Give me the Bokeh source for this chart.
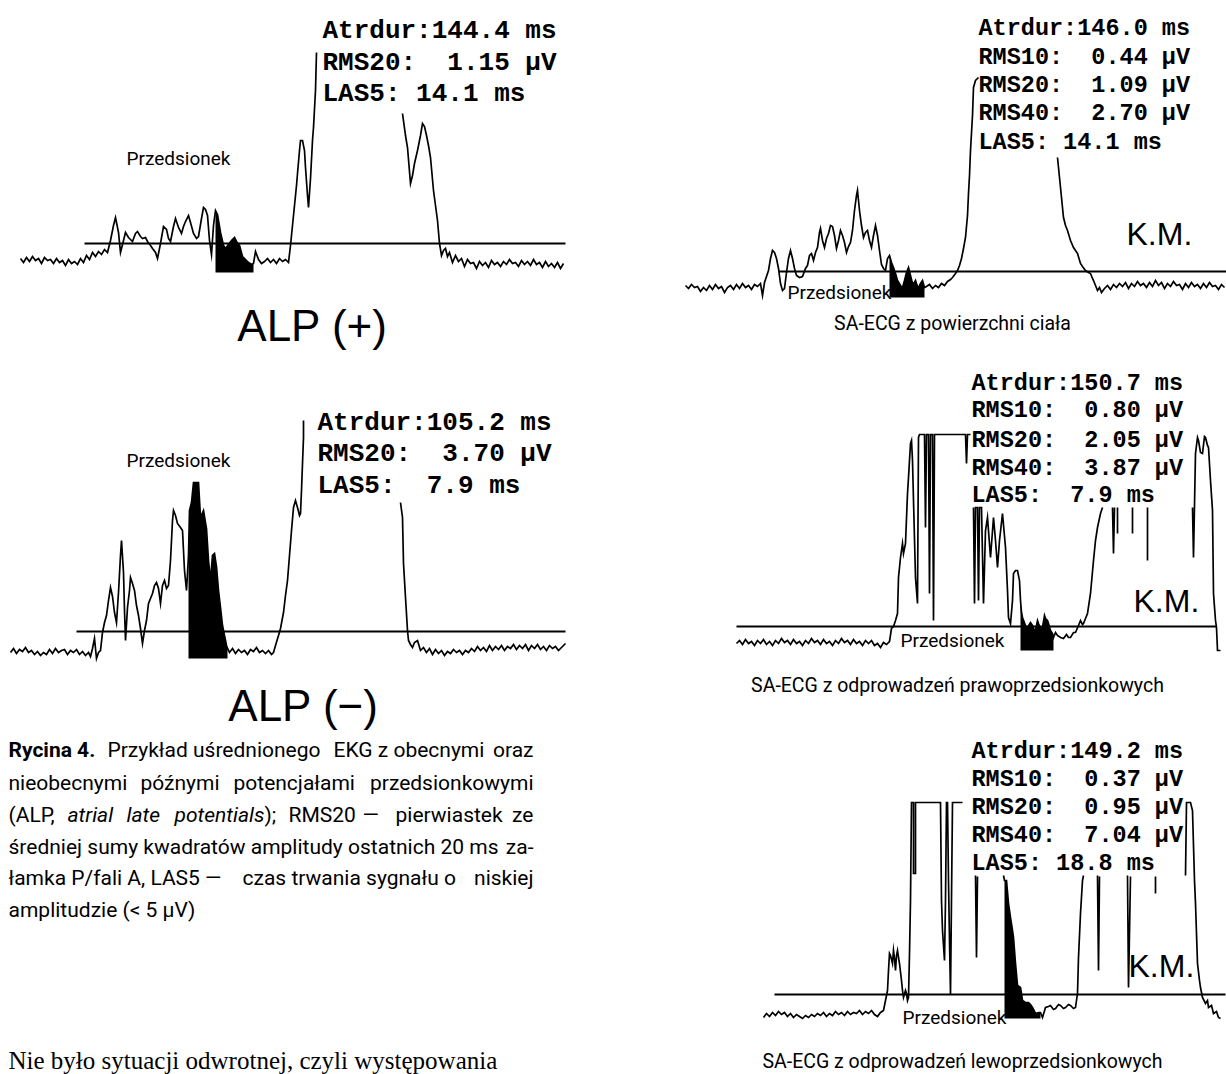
import numpy as np
from bokeh.plotting import figure
from bokeh.models import Range1d
from bokeh.core.properties import value
from bokeh.embed import file_html
from bokeh.resources import INLINE

nan = float("nan")
GAP = (nan, nan)

# ---------------- DATA (time offset, amplitude rel. to isoelectric line) ----------------
ALP_POS = [(0,-15),(3,-19),(6,-14),(9,-18),(12,-13),(15,-17),(18,-15),(21,-20),(24,-14),(27,-17),
 (30,-16),(33,-20),(36,-15),(39,-19),(42,-17),(45,-22),(48,-16),(51,-20),(54,-18),(57,-21),(60,-15),
 (63,-19),(66,-12),(69,-16),(72,-9),(75,-13),(78,-8),(81,-11),(84,-6),(87,-9),(90,3),(93,18),(95,26),
 (98,11),(100,-9),(103,3),(105,11),(108,6),(112,2),(115,10),(117,12),(120,7),(122,5),(125,6),(127,2),
 (130,-2),(132,-5),(135,-9),(137,-15),(140,0),(143,17),(146,14),(148,5),(150,2),(153,17),(155,25),
 (158,16),(161,10),(163,17),(165,22),(168,28),(170,21),(173,10),(176,5),(178,7),(181,25),(183,36),
 (185,34),(187,28),(189,3),(191,-11),(193,18),(195,33),(197,29),(200,11),(203,-2),(205,-5),(208,-1),
 (211,3),(214,6),(216,2),(219,-2),(222,-13),(225,-16),(228,-19),(231,-21),(233,-20),(235,-8),(238,-16),
 (241,-20),(244,-18),(247,-15),(250,-19),(253,-16),(256,-20),(259,-15),(262,-18),(265,-16),(268,-19),
 (270,-2),(272,18),(274,38),(276,58),(277,70),(279,93),(280,103),(282,103),(284,93),(285,76),(287,48),
 (288,36),(290,65),(292,103),(293,116),(295,153),(296,191), GAP,
 (382,130),(385,108),(387,96),(390,60),(392,68),(394,80),(397,93),(400,108),(402,120),(404,117),
 (406,108),(408,98),(410,86),(413,53),(415,38),(417,23),(419,0),(421,-12),(423,-7),(425,-5),(427,-13),
 (429,-9),(432,-19),(435,-12),(438,-18),(441,-15),(444,-23),(447,-16),(450,-20),(453,-19),(456,-25),
 (459,-18),(462,-22),(465,-19),(468,-24),(471,-17),(474,-21),(477,-19),(480,-23),(483,-18),(486,-21),
 (489,-16),(492,-20),(495,-19),(498,-23),(501,-17),(504,-21),(507,-18),(510,-22),(513,-16),(516,-21),
 (519,-19),(522,-24),(525,-18),(528,-23),(531,-20),(534,-24),(537,-19),(540,-25),(543,-20)]
ALP_POS_BASE = (64, 545)
ALP_POS_LAS = (195, 233, -29)

ALP_NEG = [(0,-21),(3,-17),(6,-22),(9,-18),(12,-20),(15,-16),(18,-21),(21,-19),(24,-23),(27,-20),
 (30,-24),(33,-21),(36,-23),(39,-18),(42,-22),(45,-17),(48,-21),(51,-19),(54,-18),(57,-23),(60,-19),
 (63,-21),(66,-18),(69,-23),(72,-20),(75,-24),(78,-21),(80,-25),(82,-17),(84,-7),(86,-27),(88,-21),
 (90,-19),(92,-1),(94,9),(96,16),(98,31),(100,44),(102,35),(104,19),(106,9),(108,39),(110,76),(111,91),
 (113,59),(114,21),(115,-9),(117,24),(119,41),(120,54),(122,48),(124,41),(126,26),(128,16),(130,3),
 (132,-12),(134,1),(136,11),(138,28),(140,33),(142,38),(144,46),(146,49),(148,43),(150,28),(152,46),
 (154,51),(156,43),(158,46),(160,71),(162,111),(163,121),(165,116),(167,108),(170,104),(172,101),
 (174,61),(176,41),(178,76),(179,121),(181,129),(183,149),(188,149),(190,114),(193,121),(196,103),
 (198,71),(200,51),(202,76),(204,78),(206,65),(208,41),(210,24),(212,6),(214,-4),(216,-14),(217,-17),
 (219,-21),(222,-17),(225,-22),(228,-18),(231,-21),(234,-19),(237,-23),(240,-18),(243,-20),(246,-16),
 (249,-21),(252,-19),(255,-22),(258,-19),(261,-23),(263,-21),(265,-14),(268,-4),(270,3),(273,19),
 (275,36),(277,51),(279,76),(281,101),(283,124),(285,131),(287,124),(289,116),(290,118),(291,141),
 (292,168),(293,194),(293,211), GAP,
 (390,129),(392,114),(393,68),(395,34),(397,1),(398,-9),(400,-13),(402,-16),(404,-11),(407,-9),
 (410,-19),(413,-16),(416,-21),(419,-17),(422,-23),(425,-18),(428,-22),(431,-19),(434,-24),(437,-20),
 (440,-22),(443,-18),(446,-21),(449,-19),(452,-23),(455,-19),(458,-21),(461,-17),(464,-20),(467,-15),
 (470,-19),(473,-16),(476,-20),(479,-14),(482,-19),(485,-15),(488,-18),(491,-14),(494,-19),(497,-15),
 (500,-17),(503,-13),(506,-18),(509,-14),(512,-17),(515,-13),(518,-19),(521,-14),(524,-17),(527,-13),
 (530,-18),(533,-15),(536,-19),(539,-14),(542,-17),(545,-15),(548,-19),(551,-16),(555,-12)]
ALP_NEG_BASE = (66, 555)
ALP_NEG_LAS = (178, 217, -27)

SURFACE = [(0,-14),(3,-17),(6,-13),(9,-16),(12,-15),(15,-20),(18,-16),(21,-19),(24,-14),(27,-18),
 (30,-13),(33,-17),(36,-15),(39,-21),(42,-16),(45,-14),(48,-18),(51,-13),(54,-17),(57,-12),(60,-16),
 (63,-14),(66,-18),(69,-13),(72,-15),(75,-12),(77,-24),(79,-11),(81,-5),(83,1),(85,13),(87,21),(89,19),
 (91,13),(93,3),(95,-12),(97,-19),(99,-17),(101,-1),(103,13),(105,21),(107,13),(109,3),(111,-4),
 (114,-6),(117,-5),(120,3),(122,6),(124,16),(126,18),(128,11),(130,19),(132,24),(134,39),(135,43),
 (137,31),(139,24),(141,33),(143,38),(145,46),(147,45),(149,36),(151,23),(153,31),(155,41),(157,36),
 (159,29),(161,19),(163,25),(165,29),(167,41),(169,61),(171,76),(172,81),(174,61),(176,46),(178,34),
 (180,39),(182,41),(184,31),(186,24),(188,36),(190,46),(192,36),(194,21),(196,7),(198,3),(200,1),
 (202,13),(204,16),(206,9),(208,4),(210,-2),(212,-9),(215,-14),(217,-16),(219,-9),(221,-1),(223,4),
 (225,-4),(227,-12),(229,-11),(230,-9),(232,-15),(233,-16),(235,-12),(237,-9),(239,-16),(241,-15),
 (244,-13),(247,-17),(250,-14),(253,-16),(256,-12),(259,-14),(262,-10),(265,-8),(267,-6),(270,-2),
 (272,1),(274,6),(276,13),(278,23),(280,34),(282,56),(283,78),(284,96),(285,121),(287,156),(288,184),
 (290,191),(293,194), GAP,
 (372,114),(375,84),(378,54),(380,46),(382,41),(385,31),(388,24),(390,21),(392,18),(395,8),(397,5),
 (400,1),(403,-1),(405,-2),(407,-7),(408,-9),(410,-14),(412,-19),(414,-16),(416,-21),(419,-17),
 (422,-14),(425,-18),(428,-13),(431,-16),(434,-12),(437,-15),(440,-11),(443,-17),(446,-12),(449,-15),
 (452,-10),(455,-14),(458,-12),(461,-16),(464,-11),(467,-15),(470,-9),(473,-14),(476,-11),(479,-17),
 (482,-12),(485,-15),(488,-10),(491,-14),(494,-13),(497,-18),(500,-12),(503,-16),(506,-11),(509,-15),
 (512,-13),(515,-17),(518,-12),(521,-16),(524,-11),(527,-15),(530,-14),(533,-18),(536,-13),(539,-16)]
SURFACE_BASE = (93, 541)
SURFACE_LAS = (204, 239, -26)

RIGHT_ATR = [(0,-17),(3,-14),(6,-18),(9,-13),(12,-17),(15,-15),(18,-19),(21,-14),(24,-17),(27,-13),
 (30,-18),(33,-15),(36,-19),(39,-14),(42,-17),(45,-12),(48,-16),(51,-14),(54,-18),(57,-13),(60,-17),
 (63,-15),(66,-19),(69,-14),(72,-17),(75,-12),(78,-16),(81,-14),(84,-18),(87,-13),(90,-17),(93,-15),
 (96,-19),(99,-14),(102,-17),(105,-12),(108,-16),(111,-14),(114,-18),(117,-13),(120,-17),(123,-15),
 (126,-19),(129,-14),(132,-17),(135,-14),(138,-19),(141,-17),(144,-21),(147,-16),(150,-18),(153,-15),
 (155,-2),(157,0),(159,6),(161,13),(162,49),(164,69),(166,83),(167,73),(169,83),(171,133),(172,149),
 (174,183),(175,186),(176,166),(177,126),(179,49),(181,23),(182,189),(183,192),(188,192),(189,99),
 (190,192),(192,192),(193,33),(194,192),(196,192),(197,6),(198,192),(229,192),(230,163),(231,192),
 (234,192), GAP,
 (237,119),(238,23),(239,119),(241,119),(242,26),(243,119),(245,119),(247,23),(249,96),(251,109),
 (254,69),(257,109),(259,86),(261,59),(263,86),(266,113),(269,79),(271,36),(272,9),(274,3),(276,26),
 (277,53),(279,56),(281,56),(283,46),(284,26),(285,14),(286,9),(289,1),(291,-1),(294,4),(296,1),
 (298,-4),(299,-4),(301,6),(302,3),(304,-2),(306,-1),(308,11),(309,8),(311,6),(312,3),(314,-4),
 (316,-7),(317,-11),(319,-6),(321,-9),(324,-11),(327,-12),(330,-8),(332,-11),(334,-11),(337,-6),
 (339,-6),(342,1),(344,6),(346,2),(347,3),(349,8),(351,13),(354,33),(357,66),(359,86),(361,99),
 (364,113),(366,119), GAP,
 (376,119),(377,73),(378,119), GAP, (381,119),(381,93), GAP, (396,119),(396,93), GAP,
 (411,119),(411,66), GAP,
 (456,119),(457,69),(459,173),(461,189),(462,186),(464,174),(466,173),(468,190),(469,189),(471,181),
 (472,179),(474,146),(476,116),(477,33),(479,6),(480,-1),(481,-24),(484,-24)]
RIGHT_ATR_BASE = (0, 480)
RIGHT_ATR_LAS = (284, 317, -24)

LEFT_ATR = [(0,-23),(3,-19),(6,-22),(9,-18),(12,-21),(15,-17),(18,-20),(21,-18),(24,-22),(27,-19),
 (30,-23),(33,-20),(36,-22),(39,-24),(42,-21),(45,-23),(48,-20),(51,-22),(54,-19),(57,-21),(60,-18),
 (63,-22),(66,-19),(69,-21),(72,-17),(75,-20),(78,-18),(81,-21),(84,-17),(87,-20),(90,-18),(93,-19),
 (96,-16),(99,-20),(102,-17),(105,-19),(108,-16),(111,-20),(114,-22),(117,-18),(120,-16),(122,-6),
 (124,4),(125,24),(126,41),(127,39),(129,31),(130,44),(131,36),(132,24),(133,39),(134,44),(135,37),
 (136,31),(138,14),(139,4),(140,-3),(142,4),(143,1),(144,-6),(145,-3),(146,41),(147,94),(148,192),
 (150,192),(150,121),(152,121),(152,192),(154,192),(177,192),(178,94),(179,64),(180,49),(181,34),
 (182,94),(183,192),(184,192),(185,114),(186,54),(187,0),(189,192),(193,192),(199,192), GAP,
 (212,119),(213,37),(214,118), GAP,
 (240,119),(241,114),(243,114),(245,91),(247,77),(249,64),(250,57),(252,31),(254,9),(257,7),(259,-6),
 (262,-8),(265,-8),(267,-10),(269,-13),(272,-19),(275,-18),(277,-18),(279,-23),(282,-13),(285,-12),
 (287,-11),(290,-15),(292,-14),(295,-10),(297,-11),(300,-14),(302,-13),(305,-10),(307,-11),(310,-14),
 (312,-13),(314,1),(315,37),(317,81),(319,114),(320,119), GAP,
 (334,119),(335,24),(336,118), GAP, (364,119),(365,7),(367,118), GAP, (392,118),(392,101), GAP,
 (422,119),(423,192),(427,192),(429,184),(431,114),(432,91),(434,31),(436,14),(437,7),(439,-3),
 (442,-9),(444,-6),(445,-13),(448,-11),(450,-19),(453,-17),(455,-23),(457,-24)]
LEFT_ATR_BASE = (11, 462)
LEFT_ATR_LAS = (241, 277, -24)

STATS_ALP_POS = ["Atrdur:144.4 ms", "RMS20:\u00a0 1.15 µV", "LAS5: 14.1 ms"]
STATS_ALP_NEG = ["Atrdur:105.2 ms", "RMS20:\u00a0 3.70 µV", "LAS5:\u00a0 7.9 ms"]
STATS_SURFACE = ["Atrdur:146.0 ms", "RMS10:\u00a0 0.44 µV", "RMS20:\u00a0 1.09 µV",
                 "RMS40:\u00a0 2.70 µV", "LAS5: 14.1 ms"]
STATS_RIGHT = ["Atrdur:150.7 ms", "RMS10:\u00a0 0.80 µV", "RMS20:\u00a0 2.05 µV",
               "RMS40:\u00a0 3.87 µV", "LAS5:\u00a0 7.9 ms"]
STATS_LEFT = ["Atrdur:149.2 ms", "RMS10:\u00a0 0.37 µV", "RMS20:\u00a0 0.95 µV",
              "RMS40:\u00a0 7.04 µV", "LAS5: 18.8 ms"]

# ---------------- LAYOUT ----------------
W, H = 1226, 1074
X0, Y0 = 0, 0
p = figure(width=W, height=H, x_range=Range1d(X0, X0 + W), y_range=Range1d(Y0 + H, Y0),
           toolbar_location=None, output_backend="svg", min_border=0)
p.axis.visible = False
p.grid.visible = False
p.outline_line_color = None
p.background_fill_color = "white"
p.border_fill_color = "white"

panels = [
    ("alp_pos", ALP_POS, ALP_POS_BASE, ALP_POS_LAS, 20, 243),
    ("alp_neg", ALP_NEG, ALP_NEG_BASE, ALP_NEG_LAS, 10, 631),
    ("surface", SURFACE, SURFACE_BASE, SURFACE_LAS, 685, 271),
    ("right", RIGHT_ATR, RIGHT_ATR_BASE, RIGHT_ATR_LAS, 736, 626),
    ("left", LEFT_ATR, LEFT_ATR_BASE, LEFT_ATR_LAS, 763, 994),
]

for name, trace, base, las, ox, oy in panels:
    p.extra_x_ranges[name] = Range1d(X0 - ox, X0 + W - ox)
    p.extra_y_ranges[name] = Range1d(oy - (Y0 + H), oy - Y0)
    arr = np.array(trace, dtype=float)
    t, v = arr[:, 0], arr[:, 1]
    m = (t >= las[0]) & (t <= las[1])
    p.varea(x=t[m], y1=np.full(m.sum(), las[2]), y2=v[m], fill_color="black",
            x_range_name=name, y_range_name=name)
    p.line(x=list(base), y=[0, 0], line_color="black", line_width=2,
           x_range_name=name, y_range_name=name)
    p.line(x=t, y=v, line_color="black", line_width=1.7, line_join="miter",
           x_range_name=name, y_range_name=name)


def txt(xs, ys, texts, font, size, style="normal", align="left"):
    p.text(x=xs, y=ys, text=texts, text_font=value(font), text_font_size=size,
           text_font_style=style, text_align=align, text_baseline="middle",
           text_color="black")


MONO = "Liberation Mono"
txt([322] * 3, [30, 62, 93], STATS_ALP_POS, MONO, "26px", "bold")
txt([317] * 3, [422, 453, 485], STATS_ALP_NEG, MONO, "26px", "bold")
txt([978] * 5, [28, 57, 85, 113, 142], STATS_SURFACE, MONO, "23.5px", "bold")
txt([971] * 5, [383, 410, 440, 468, 495], STATS_RIGHT, MONO, "23.5px", "bold")
txt([971] * 5, [751, 779, 807, 835, 863], STATS_LEFT, MONO, "23.5px", "bold")

txt([126, 126, 787, 900, 902], [158, 460, 292, 640, 1017], ["Przedsionek"] * 5, "Roboto", "19px")
txt([1126, 1133, 1128], [233, 600, 965], ["K.M."] * 3, "Liberation Sans", "32px")
txt([312, 303], [325, 705], ["ALP (+)", "ALP (\u2212)"], "Liberation Sans", "44px", align="center")
txt([952, 957, 962], [323, 685, 1061],
    ["SA-ECG z powierzchni ciała", "SA-ECG z odprowadzeń prawoprzedsionkowych",
     "SA-ECG z odprowadzeń lewoprzedsionkowych"], "Roboto", "19.5px", align="center")

CAP = "Roboto"
CS = "21px"
txt([8], [749], ["Rycina 4."], CAP, CS, "bold")
txt([107, 333, 8, 140, 233, 8, 264, 288, 362, 395, 8, 8, 242, 8],
    [749, 749, 782, 782, 782, 814, 814, 814, 814, 814, 846, 877, 877, 909],
    ["Przykład uśrednionego", "EKG z obecnymi", "nieobecnymi", "późnymi", "potencjałami",
     "(ALP,", ");", "RMS20", "—", "pierwiastek",
     "średniej sumy kwadratów amplitudy ostatnich 20 ms",
     "łamka P/fali A, LAS5 —", "czas trwania sygnału o", "amplitudzie (< 5 µV)"], CAP, CS)
txt([67, 126, 174], [814] * 3, ["atrial", "late", "potentials"], CAP, CS, "italic")
txt([533] * 5, [749, 782, 814, 846, 877], ["oraz", "przedsionkowymi", "ze", "za-", "niskiej"],
    CAP, CS, align="right")
txt([8], [1060], ["Nie było sytuacji odwrotnej, czyli występowania"], "Liberation Serif", "25px")

open("out.html", "w").write(file_html(p, INLINE))
